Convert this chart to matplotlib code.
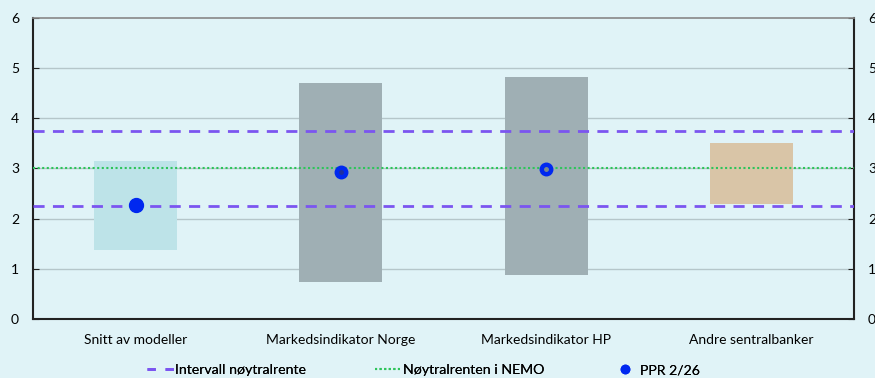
import matplotlib.pyplot as plt
from matplotlib.lines import Line2D
import numpy as np

plt.rcParams['font.family'] = ['Lato', 'DejaVu Sans']

categories = ['Snitt av modeller', 'Markedsindikator Norge', 'Markedsindikator HP', 'Andre sentralbanker']
range_low = [1.38, 0.74, 0.87, 2.30]
range_high = [3.15, 4.70, 4.82, 3.51]
bar_colors = ['#bde3e8', '#9fafb4', '#9fafb4', '#d9c5a7']
ppr_values = [2.28, 2.93, 2.99, np.nan]
interval_low, interval_high = 2.25, 3.75
nemo_rate = 3.0

bg = '#e0f3f7'
fig = plt.figure(figsize=(8.75, 3.78), dpi=100, facecolor=bg)
ax = fig.add_axes([33/875, 1 - 319/378, (854-33)/875, (319-17.7)/378])
ax.set_facecolor(bg)

x = np.arange(len(categories))
ax.bar(x, np.array(range_high) - np.array(range_low), bottom=range_low,
       width=0.405, color=bar_colors, zorder=2)

for y in range(1, 6):
    ax.axhline(y, color='#b5c6ca', lw=1, zorder=1)

ax.axhline(interval_high, color='#7b55f0', lw=2, ls=(0, (4, 3)), zorder=3)
ax.axhline(interval_low, color='#7b55f0', lw=2, ls=(0, (4, 3)), zorder=3)
ax.axhline(nemo_rate, color='#2ec45a', lw=1.5, ls=(0, (1, 1.2)), zorder=3)

sizes = [10, 9, 9, 0]
for xi, v, s in zip(x, ppr_values, sizes):
    if not np.isnan(v):
        ax.plot(xi, v, 'o', color='#0028f0', ms=s, zorder=4)
ax.plot(x[1], ppr_values[1], 'o', color='#2030a0', ms=2.5, zorder=5)
ax.plot(x[2], ppr_values[2], 'o', color='#7a8a90', ms=2.5, zorder=5)

ax.set_xlim(-0.5, 3.5)
ax.set_ylim(0, 6)
ax.set_xticks(x)
ax.set_xticklabels(categories, fontsize=10)
ax.tick_params(axis='x', length=0, pad=11)
ax.set_yticks(range(0, 7))
ax.tick_params(axis='y', direction='in', length=4, labelsize=10, pad=10,
               right=True, labelright=True, color='#222222')

for side in ['left', 'bottom', 'right']:
    ax.spines[side].set_color('#222222')
    ax.spines[side].set_linewidth(1.5)
ax.spines['top'].set_color('#888888')
ax.spines['top'].set_linewidth(1.2)

handles = [
    Line2D([], [], color='#7b55f0', lw=2, ls=(0, (3, 3.5))),
    Line2D([], [], color='#2ec45a', lw=1.5, ls=(0, (1, 1.2))),
    Line2D([], [], color='#0028f0', marker='o', ls='none', ms=6),
]
labels = ['Intervall nøytralrente', 'Nøytralrenten i NEMO', 'PPR 2/26']
positions = [147/875, 375/875, 618/875]
hlens = [1.9, 1.9, 1.0]
gaps = [0.05, 0.05, 0.55]
for h, lab, px, hl, gp in zip(handles, labels, positions, hlens, gaps):
    leg = fig.legend([h], [lab], loc='center left', bbox_to_anchor=(px, 0.021),
                     frameon=False, fontsize=10.2, handlelength=hl, handletextpad=gp,
                     borderpad=0, borderaxespad=0)
    fig.add_artist(leg)

fig.savefig('out.png', dpi=100, facecolor=bg)
